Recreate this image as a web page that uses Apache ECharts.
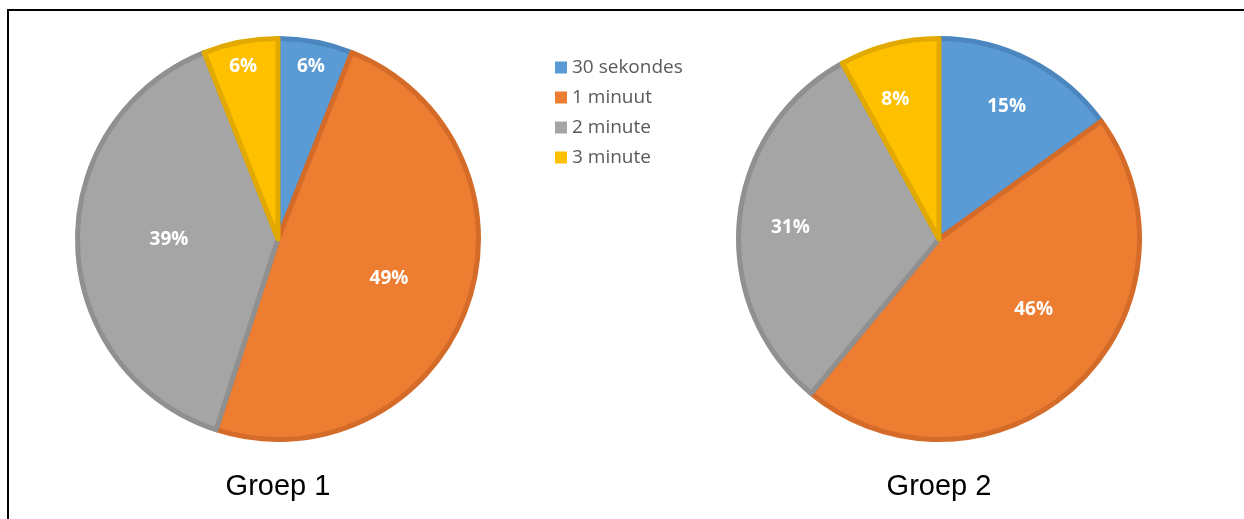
<!DOCTYPE html>
<html>
<head>
<meta charset="utf-8">
<script src="https://cdn.jsdelivr.net/npm/echarts@6/dist/echarts.min.js"></script>
<style>
html,body{margin:0;padding:0;background:#fff;}
#c{width:1244px;height:519px;}
</style>
</head>
<body>
<div id="c"></div>
<script>
const categories = ['30 sekondes', '1 minuut', '2 minute', '3 minute'];
const groupTitles = ['Groep 1', 'Groep 2'];
const group1 = [6, 49, 39, 6];
const group2 = [15, 46, 31, 8];

const fills = ['#5b9bd5', '#ed7d31', '#a5a5a5', '#ffc000'];
const borders = ['#4c86bf', '#d56b28', '#909090', '#e2a900'];
const centers = [[278, 239], [939, 239]];
const BW = 5;
const R = 203 - BW / 2;
// label placement (style): distance from centre and angular nudge per slice
const labelRadii = [[173, 115, 106, 173], [146, 115, 146, 143]];
const labelShift = [[0, 0, 1.3, -0.6], [0, -10.1, -1.1, -3.0]];

const chart = echarts.init(document.getElementById('c'), null, {renderer: 'canvas'});
const series = [];
[group1, group2].forEach((vals, g) => {
  series.push({
    type: 'pie', center: centers[g], radius: [0, R], startAngle: 90, clockwise: true,
    silent: true, animation: false, label: {show: false}, labelLine: {show: false},
    data: vals.map((v, i) => ({
      name: categories[i], value: v,
      itemStyle: {color: fills[i], borderColor: borders[i], borderWidth: BW}
    }))
  });
  // transparent label rings: one per slice so each inside label sits where the reference has it
  vals.forEach((v, k) => {
    const lr = labelRadii[g][k];
    series.push({
      type: 'pie', center: centers[g], radius: [lr - 20, lr + 20],
      startAngle: 90 - labelShift[g][k], clockwise: true,
      silent: true, animation: false, legendHoverLink: false,
      labelLine: {show: false},
      data: vals.map((vv, i) => ({
        name: categories[i] + ' ', value: vv,
        itemStyle: {color: 'rgba(0,0,0,0)', borderWidth: 0},
        label: {show: i === k}
      })),
      label: {
        position: 'inside', formatter: '{c}%', color: '#ffffff',
        fontFamily: 'Open Sans', fontWeight: 'bold', fontSize: 19
      }
    });
  });
});

chart.setOption({
  backgroundColor: '#ffffff',
  animation: false,
  legend: {
    data: categories, orient: 'vertical', left: 550, top: 53,
    itemWidth: 12, itemHeight: 12, itemGap: 11, icon: 'rect',
    itemStyle: {borderWidth: 0},
    textStyle: {color: '#595959', fontSize: 19, lineHeight: 18, fontFamily: 'Open Sans'},
    selectedMode: false
  },
  graphic: [
    {type: 'line', shape: {x1: 7, y1: 10, x2: 1244, y2: 10}, style: {stroke: '#000', lineWidth: 2}},
    {type: 'line', shape: {x1: 8, y1: 9, x2: 8, y2: 519}, style: {stroke: '#000', lineWidth: 2}},
    ...groupTitles.map((t, g) => ({
      type: 'text', x: centers[g][0], y: 487,
      style: {text: t, fill: '#000', font: '29px "Liberation Sans", Arial', textAlign: 'center', textVerticalAlign: 'middle'}
    }))
  ],
  series: series
});
</script>
</body>
</html>
